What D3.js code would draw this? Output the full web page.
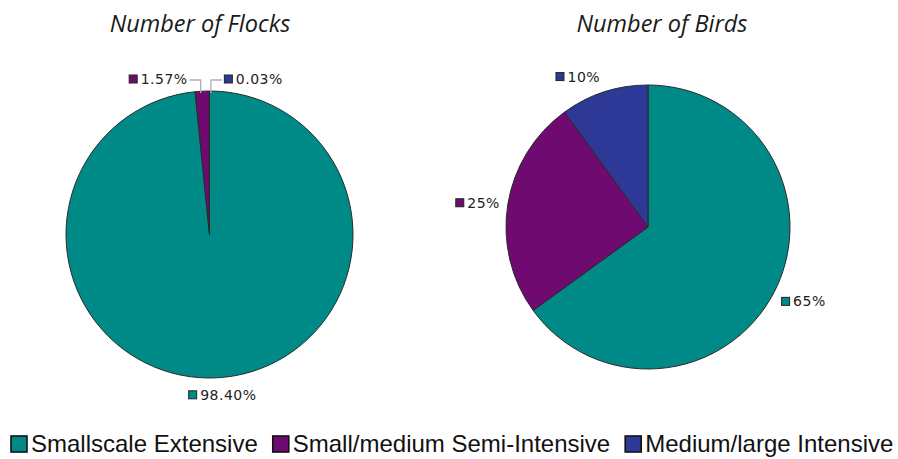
<!DOCTYPE html>
<html><head><meta charset="utf-8">
<script src="https://cdn.jsdelivr.net/npm/d3@7"></script>
<style>body{margin:0;background:#fff}svg{display:block}</style>
</head><body>
<svg id="chart" width="898" height="459"></svg>
<script>
const categories = ["Smallscale Extensive", "Small/medium Semi-Intensive", "Medium/large Intensive"];
const colors = ["#008a87", "#6e0a70", "#2e3896"];
const chartTitles = ["Number of Flocks", "Number of Birds"];
const flocksValues = [98.40, 1.57, 0.03];
const flocksLabels = ["98.40%", "1.57%", "0.03%"];
const birdsValues = [65, 25, 10];
const birdsLabels = ["65%", "25%", "10%"];

const svg = d3.select("#chart");
const color = d3.scaleOrdinal().domain(categories).range(colors);
const pie = d3.pie().sort(null).value(d => d.v);

const pies = [
  {title: chartTitles[0], values: flocksValues, labels: flocksLabels, cx: 209.5, cy: 234.5, r: 143.5, tx: 200},
  {title: chartTitles[1], values: birdsValues, labels: birdsLabels, cx: 648, cy: 227, r: 142, tx: 662}
];

pies.forEach((p, pi) => {
  svg.append("text").attr("x", p.tx).attr("y", 32).attr("text-anchor", "middle")
    .attr("font-family", "Open Sans, sans-serif").attr("font-style", "italic")
    .attr("font-size", 23.5).attr("fill", "#1a1a1a").text(p.title);
  const data = pie(categories.map((c, i) => ({c, v: p.values[i], l: p.labels[i]})));
  const g = svg.append("g").attr("transform", `translate(${p.cx},${p.cy})`);
  const arc = d3.arc().innerRadius(0).outerRadius(p.r);
  g.selectAll("path").data(data).join("path")
    .attr("d", arc).attr("fill", d => color(d.data.c))
    .attr("stroke", "#2a2a2a").attr("stroke-width", 1).attr("stroke-linejoin", "round");

  const lg = svg.append("g");
  data.forEach((d, i) => {
    const mid = (d.startAngle + d.endAngle) / 2;
    let lx, ly, anchor;
    const small = pi === 0 && i > 0;
    if (small) {
      const ex = p.cx + p.r * Math.sin(mid);
      const side = i === 1 ? -1 : 1;
      const vx = ex + side * 1.5;
      const hy = p.cy - p.r - 11;
      const hx = vx + side * 11;
      lg.append("polyline").attr("points", `${vx},${p.cy - p.r + 2} ${vx},${hy} ${hx},${hy}`)
        .attr("fill", "none").attr("stroke", "#b0b0b0").attr("stroke-width", 1.3);
      lx = hx + side * 2; ly = hy - 1; anchor = side < 0 ? "end" : "start";
    } else {
      const R = p.r + 13;
      lx = p.cx + R * Math.sin(mid); ly = p.cy - R * Math.cos(mid);
      const s = Math.sin(mid);
      anchor = s > 0.2 ? "start" : (s < -0.2 ? "end" : "middle");
      if (anchor === "middle") { ly += 4; lx += 5; }
      if (pi === 1 && i === 0) { lx -= 5; ly += 4; }
      if (pi === 1 && i === 1) { lx += 5; }
      if (pi === 1 && i === 2) { ly -= 3; }
    }
    const t = lg.append("text").attr("y", ly + 5)
      .attr("font-family", "DejaVu Sans, sans-serif").attr("font-size", 14)
      .attr("letter-spacing", 0.5).attr("fill", "#222").text(d.data.l);
    const w = t.node().getComputedTextLength();
    const total = w + 12;
    let x0 = anchor === "start" ? lx : anchor === "end" ? lx - total : lx - total / 2;
    lg.append("rect").attr("x", x0 + 0.5).attr("y", ly - 4).attr("width", 8).attr("height", 8)
      .attr("fill", color(d.data.c)).attr("stroke", "#222").attr("stroke-width", 1);
    t.attr("x", x0 + 12);
  });
});

// legend
const leg = svg.append("g");
let x = 10;
categories.forEach((c, i) => {
  leg.append("rect").attr("x", x + 1).attr("y", 436).attr("width", 16).attr("height", 16)
    .attr("fill", color(c)).attr("stroke", "#111").attr("stroke-width", 1.6);
  const t = leg.append("text").attr("x", x + 21).attr("y", 452)
    .attr("font-family", "Liberation Sans, Arial, sans-serif").attr("font-size", 24)
    .attr("fill", "#111").text(c);
  x += 21 + t.node().getComputedTextLength() + 14;
});
</script>
</body></html>
